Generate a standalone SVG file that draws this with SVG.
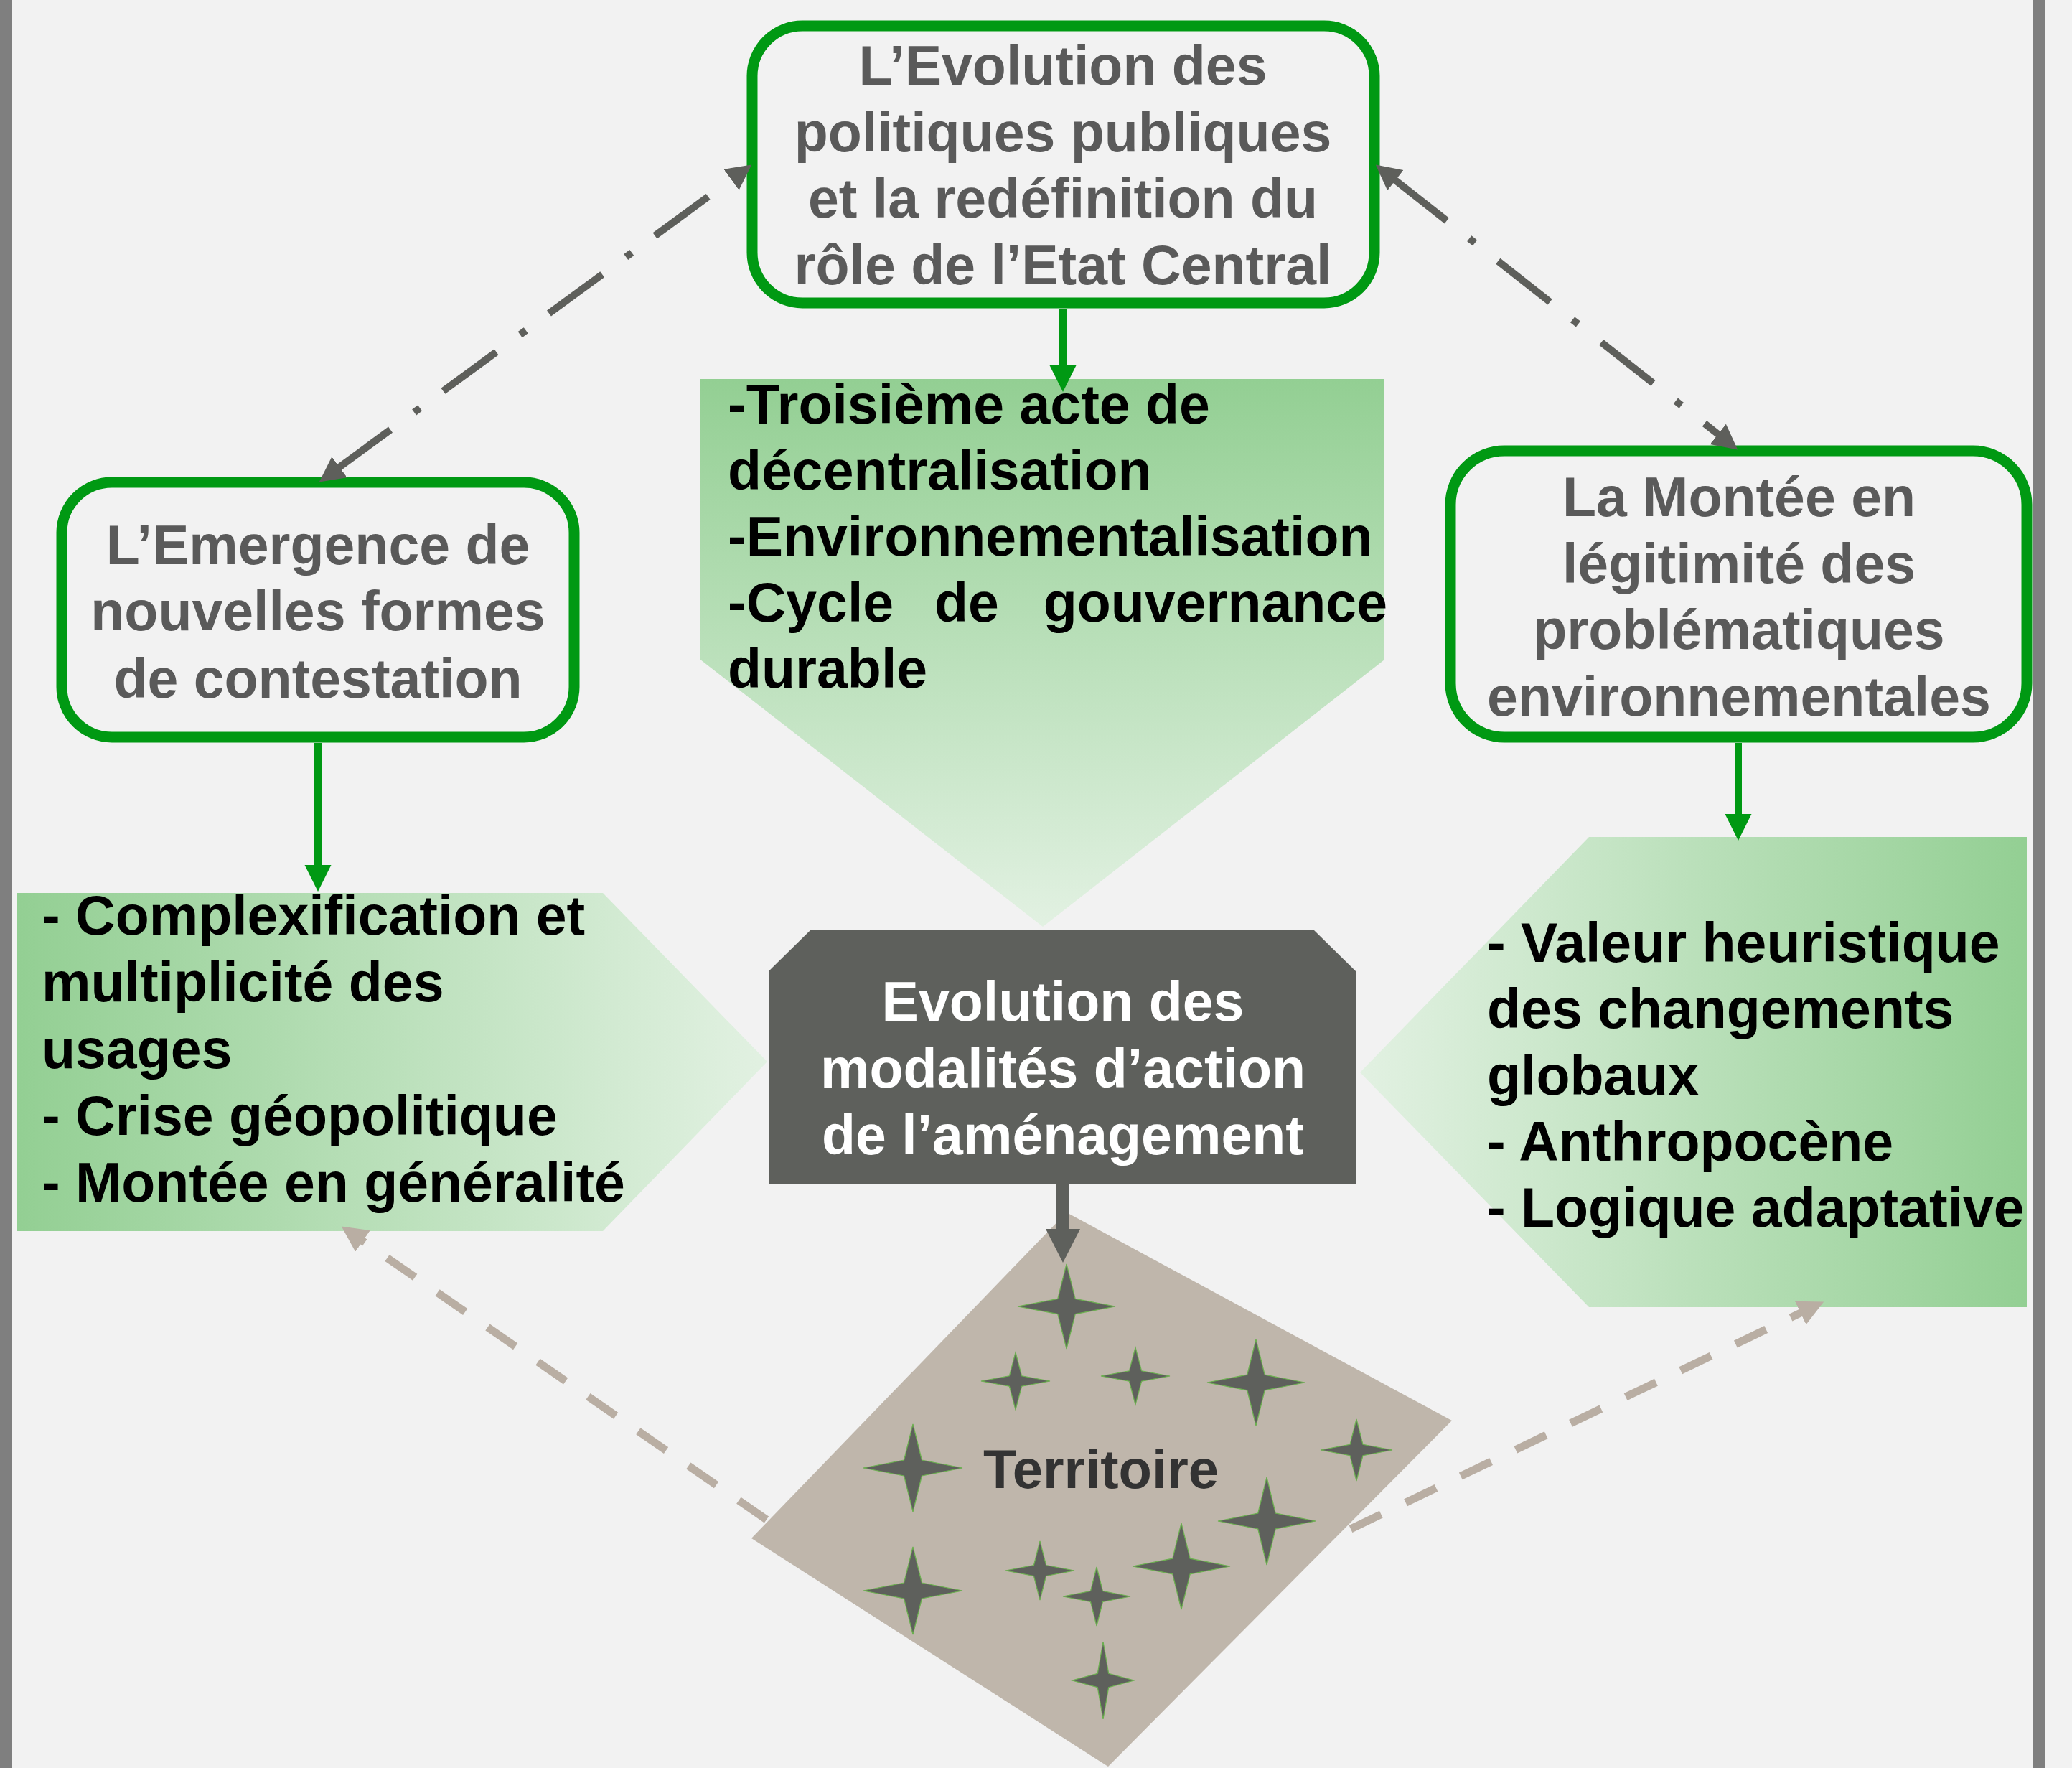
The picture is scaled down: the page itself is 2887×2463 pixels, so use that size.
<svg xmlns="http://www.w3.org/2000/svg" width="2887" height="2463" viewBox="0 0 2887 2463">
<defs>
<style>
.nodebox{fill:#f2f2f2;stroke:#009913;stroke-width:15}
.nodetxt{font-family:"Liberation Sans",Arial,sans-serif;font-weight:bold;font-size:77px;fill:#5a5a5a;text-anchor:middle}
.bul{font-family:"Liberation Sans",Arial,sans-serif;font-weight:bold;font-size:77px;fill:#000000}
.ctrtxt{font-family:"Liberation Sans",Arial,sans-serif;font-weight:bold;font-size:77px;fill:#ffffff;text-anchor:middle}
.terr{font-family:"Liberation Sans",Arial,sans-serif;font-weight:bold;font-size:76px;fill:#333333;text-anchor:middle}
.star{fill:#5e605c;stroke:#6bb04f;stroke-width:1.2}
.garrow{stroke:#009913;stroke-width:10;fill:none}
.dashdot{stroke:#5e5f5b;stroke-width:10;fill:none;stroke-dasharray:92 40 10 41}
.tan{stroke:#b9aea3;stroke-width:11;fill:none;stroke-dasharray:47 38}
.dark{stroke:#5e605c;stroke-width:18;fill:none}
.bar{fill:#7f7f7f}
</style>
<linearGradient id="gTop" gradientUnits="userSpaceOnUse" x1="0" y1="528" x2="0" y2="1291">
<stop offset="0" stop-color="#93cf93"/>
<stop offset="1" stop-color="#e2f1e2"/>
</linearGradient>
<linearGradient id="gLeft" gradientUnits="userSpaceOnUse" x1="24" y1="0" x2="1069" y2="0">
<stop offset="0" stop-color="#93cf93"/>
<stop offset="1" stop-color="#e2f1e2"/>
</linearGradient>
<linearGradient id="gRight" gradientUnits="userSpaceOnUse" x1="2824" y1="0" x2="1895" y2="0">
<stop offset="0" stop-color="#93cf93"/>
<stop offset="1" stop-color="#e2f1e2"/>
</linearGradient>
<marker id="mGreen" markerUnits="userSpaceOnUse" viewBox="0 0 40 40" markerWidth="40" markerHeight="40" refX="1" refY="20" orient="auto-start-reverse">
<path d="M0,1.5 L37,20 L0,38.5 Z" fill="#009913"/>
</marker>
<marker id="mGray" markerUnits="userSpaceOnUse" viewBox="0 0 40 40" markerWidth="40" markerHeight="40" refX="1" refY="20" orient="auto-start-reverse">
<path d="M0,2 L35,20 L0,38 Z" fill="#5e5f5b"/>
</marker>
<marker id="mTan" markerUnits="userSpaceOnUse" viewBox="0 0 40 40" markerWidth="40" markerHeight="40" refX="1" refY="20" orient="auto-start-reverse">
<path d="M0,2 L36,20 L0,38 Z" fill="#b9aea3"/>
</marker>
<marker id="mDark" markerUnits="userSpaceOnUse" viewBox="0 0 50 50" markerWidth="50" markerHeight="50" refX="1" refY="25" orient="auto-start-reverse">
<path d="M0,1 L47,25 L0,49 Z" fill="#5e605c"/>
</marker>
</defs>

<rect x="0" y="0" width="2887" height="2463" fill="#f2f2f2"/>
<rect class="bar" x="0" y="0" width="17" height="2463"/>
<rect class="bar" x="2833" y="0" width="17" height="2463"/>

<g id="box-top">
<polygon points="976,528 1929,528 1929,919 1453,1291 976,919" fill="url(#gTop)"/>
<text class="bul" x="1014" y="590">-Troisième acte de</text>
<text class="bul" x="1014" y="682">décentralisation</text>
<text class="bul" x="1014" y="774">-Environnementalisation</text>
<text class="bul" y="866"><tspan x="1014">-Cycle</tspan><tspan x="1302">de</tspan><tspan x="1933" text-anchor="end">gouvernance</tspan></text>
<text class="bul" x="1014" y="958">durable</text>
</g>

<g id="box-left">
<polygon points="24,1244 840,1244 1069,1479 840,1715 24,1715" fill="url(#gLeft)"/>
<text class="bul" x="58" y="1302">- Complexification et</text>
<text class="bul" x="58" y="1395">multiplicité des</text>
<text class="bul" x="58" y="1488">usages</text>
<text class="bul" x="58" y="1581">- Crise géopolitique</text>
<text class="bul" x="58" y="1674">- Montée en généralité</text>
</g>

<g id="box-right">
<polygon points="2214,1166 2824,1166 2824,1821 2214,1821 1895,1494" fill="url(#gRight)"/>
<text class="bul" x="2072" y="1340">- Valeur heuristique</text>
<text class="bul" x="2072" y="1432">des changements</text>
<text class="bul" x="2072" y="1525">globaux</text>
<text class="bul" x="2072" y="1617">- Anthropocène</text>
<text class="bul" x="2072" y="1709">- Logique adaptative</text>
</g>

<g id="node-top">
<rect class="nodebox" x="1048" y="36" width="867" height="386" rx="70" ry="70"/>
<text class="nodetxt" x="1481" y="118">L’Evolution des</text>
<text class="nodetxt" x="1481" y="211">politiques publiques</text>
<text class="nodetxt" x="1481" y="303">et la redéfinition du</text>
<text class="nodetxt" x="1481" y="396">rôle de l’Etat Central</text>
</g>

<g id="node-left">
<rect class="nodebox" x="86" y="672" width="714" height="355" rx="70" ry="70"/>
<text class="nodetxt" x="443" y="786">L’Emergence de</text>
<text class="nodetxt" x="443" y="878">nouvelles formes</text>
<text class="nodetxt" x="443" y="972">de contestation</text>
</g>

<g id="node-right">
<rect class="nodebox" x="2021" y="628" width="803" height="399" rx="75" ry="75"/>
<text class="nodetxt" x="2423" y="719">La Montée en</text>
<text class="nodetxt" x="2423" y="812">légitimité des</text>
<text class="nodetxt" x="2423" y="904">problématiques</text>
<text class="nodetxt" x="2423" y="997">environnementales</text>
</g>

<g id="territoire">
<polygon points="1486,1689 2023,1979 1544,2461 1047,2143" fill="#bfb6ab"/>
<polygon class="star" points="1486,1761 1498.2,1809.4 1554,1820 1498.2,1830.6 1486,1879 1473.8,1830.6 1418,1820 1473.8,1809.4"/>
<polygon class="star" points="1415,1884 1423.6,1916.8 1463,1924 1423.6,1931.2 1415,1964 1406.4,1931.2 1367,1924 1406.4,1916.8"/>
<polygon class="star" points="1582,1877 1590.6,1909.8 1630,1917 1590.6,1924.2 1582,1957 1573.4,1924.2 1534,1917 1573.4,1909.8"/>
<polygon class="star" points="1750,1866 1762.2,1915.2 1818,1926 1762.2,1936.8 1750,1986 1737.8,1936.8 1682,1926 1737.8,1915.2"/>
<polygon class="star" points="1890,1977 1899,2012.3 1940,2020 1899,2027.7 1890,2063 1881,2027.7 1840,2020 1881,2012.3"/>
<polygon class="star" points="1272,1984 1284.4,2034 1341,2045 1284.4,2056 1272,2106 1259.6,2056 1203,2045 1259.6,2034"/>
<polygon class="star" points="1765,2058 1777.2,2108 1833,2119 1777.2,2130 1765,2180 1752.8,2130 1697,2119 1752.8,2108"/>
<polygon class="star" points="1646,2122 1658.2,2171.2 1714,2182 1658.2,2192.8 1646,2242 1633.8,2192.8 1578,2182 1633.8,2171.2"/>
<polygon class="star" points="1272,2155 1284.4,2205 1341,2216 1284.4,2227 1272,2277 1259.6,2227 1203,2216 1259.6,2205"/>
<polygon class="star" points="1449,2147 1457.6,2180.6 1497,2188 1457.6,2195.4 1449,2229 1440.4,2195.4 1401,2188 1440.4,2180.6"/>
<polygon class="star" points="1528,2183 1536.5,2216.6 1575,2224 1536.5,2231.4 1528,2265 1519.5,2231.4 1481,2224 1519.5,2216.6"/>
<polygon class="star" points="1537,2287 1544.7,2331.3 1580,2341 1544.7,2350.7 1537,2395 1529.3,2350.7 1494,2341 1529.3,2331.3"/>
<text class="terr" x="1534" y="2073">Territoire</text>
</g>

<g id="center">
<polygon points="1071,1353 1129,1296 1831,1296 1889,1353 1889,1650 1071,1650" fill="#5e605c"/>
<text class="ctrtxt" x="1481" y="1422">Evolution des</text>
<text class="ctrtxt" x="1481" y="1515">modalités d’action</text>
<text class="ctrtxt" x="1481" y="1608">de l’aménagement</text>
</g>

<g id="connectors">
<path class="garrow" d="M1481,430 L1481,510" marker-end="url(#mGreen)"/>
<path class="garrow" d="M443,1035 L443,1206" marker-end="url(#mGreen)"/>
<path class="garrow" d="M2422,1035 L2422,1135" marker-end="url(#mGreen)"/>
<path class="dashdot" style="stroke-dashoffset:142" d="M1019.8,249.7 L472.2,651.3" marker-start="url(#mGray)" marker-end="url(#mGray)"/>
<path class="dashdot" d="M1943.5,250.6 L2394.5,605.4" marker-start="url(#mGray)" marker-end="url(#mGray)"/>
<path class="tan" d="M1068,2117 L504.6,1728.4" marker-end="url(#mTan)"/>
<path class="tan" d="M1882,2130 L2509.6,1828.6" marker-end="url(#mTan)"/>
<path class="dark" d="M1481,1650 L1481,1713" marker-end="url(#mDark)"/>
</g>
</svg>
